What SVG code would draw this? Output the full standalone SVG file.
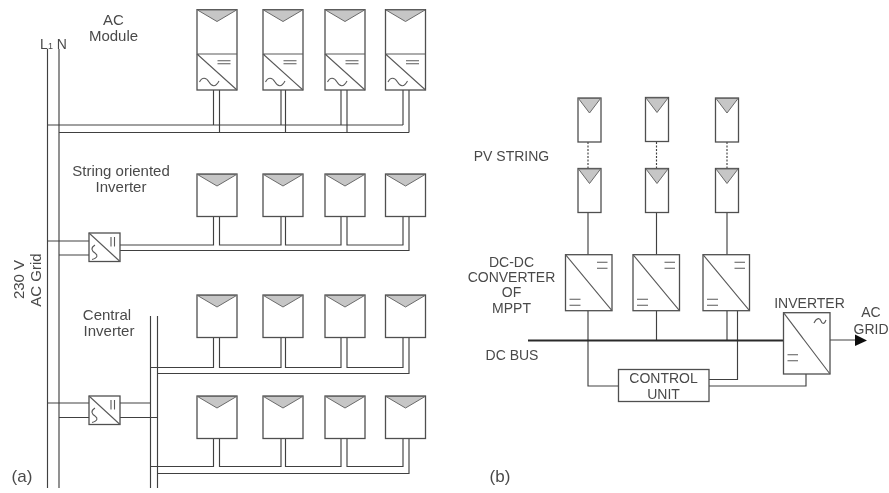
<svg xmlns="http://www.w3.org/2000/svg" width="889" height="493" viewBox="0 0 889 493">
<style>
.l{fill:none;stroke:#404040;stroke-width:1.15}
.b{fill:#fff;stroke:#4f4f4f;stroke-width:1.3}
.t{fill:#c6c6c6;stroke:#6a6a6a;stroke-width:1}
.s{fill:none;stroke:#5a5a5a;stroke-width:1.1}
text{font-family:"Liberation Sans",Arial,sans-serif;font-size:14px;fill:#4a4a4a;text-anchor:middle}
</style>
<defs>
<filter id="soft" x="0" y="0" width="100%" height="100%"><feGaussianBlur stdDeviation="0.35"/></filter>
<g id="panel"><rect class="b" x="0" y="0" width="40" height="42.500"/><path class="t" d="M0.500 0.500H39.500L20 12Z"/></g>
<g id="acpanel"><rect class="b" x="0" y="0" width="40" height="80.500"/><path class="t" d="M0.500 0.500H39.500L20 12Z"/><path class="s" d="M0 44.500H40M0 44.500L40 80.500M20.500 51.300H33.500M20.500 54.300H33.500"/><path class="s" d="M2.500 72.500C5 67.500 9 67.500 12 72.500S18.500 78 22 71.500"/></g>
<g id="inv"><rect class="b" x="0" y="0" width="31" height="28.500"/><path class="s" d="M0 0L31 28.500M22 4V13.500M25.500 4V13.500M6 12C1 15 3 18 6 20S9 25 3 26.500"/></g>
<g id="mini"><rect class="b" x="0" y="0" width="23" height="44"/><path class="t" d="M0.500 0.500H22.500L11.500 15Z"/></g>
<g id="dc"><rect class="b" x="0" y="0" width="46.500" height="56"/><path class="s" d="M0 0L46.500 56M31.500 7.500H42M31.500 13.500H42M4 44.500H15M4 50.500H15"/></g>
</defs>
<rect width="889" height="493" fill="#fff"/>
<g filter="url(#soft)">
<g id="connectors">
<path class="l" d="M47.500 49V488M59 49V488"/>
<path class="l" d="M47.500 125H403M59 132.500H409M213.500 90V125M219.500 90V132.500M281 90V125M285.500 90V132.500M341 90V125M347 90V132.500M403 90V125M409 90V132.500"/>
<path class="l" d="M47.500 241H89M59 255H89M120 245H213.500V216M219.500 216V245H281V216M285.500 216V245H341V216M347 216V245H403V216M120 250.500H409V216"/>
<path class="l" d="M150.500 316V488M157.500 316V488M47.500 403H89M59 417.500H89M120 403H150.500M120 417.500H157.500"/>
<path class="l" d="M150.500 367.500H213.500V337M219.500 337V367.500H281V337M285.500 337V367.500H341V337M347 337V367.500H403V337M157.500 373.500H409V337"/>
<path class="l" d="M150.500 466.500H213.500V438M219.500 438V466.500H281V438M285.500 438V466.500H341V438M347 438V466.500H403V438M157.500 473.500H409V438"/>
<path class="l" stroke-dasharray="2 1.500" d="M588 142V169M656.500 142V169M727 142V169"/>
<path class="l" d="M588 212V255M656.500 212V255M727 212V255"/>
<path class="l" d="M588 311V386H618.500M656.500 311V340M727 311V340M737.500 311V379.500H709M709 386H806V374M830 340H856"/>
<path d="M528 340.500H783" fill="none" stroke="#2a2a2a" stroke-width="2.200"/>
<path d="M855 334.500L867 340.500L855 346Z" fill="#111"/>
</g>
<g id="ac-module-1"><use href="#acpanel" x="197" y="9.500"/></g>
<g id="ac-module-2"><use href="#acpanel" x="263" y="9.500"/></g>
<g id="ac-module-3"><use href="#acpanel" x="325" y="9.500"/></g>
<g id="ac-module-4"><use href="#acpanel" x="385.500" y="9.500"/></g>
<g id="string-panel-1"><use href="#panel" x="197" y="174"/></g>
<g id="string-panel-2"><use href="#panel" x="263" y="174"/></g>
<g id="string-panel-3"><use href="#panel" x="325" y="174"/></g>
<g id="string-panel-4"><use href="#panel" x="385.500" y="174"/></g>
<g id="central-panel-1"><use href="#panel" x="197" y="295"/></g>
<g id="central-panel-2"><use href="#panel" x="263" y="295"/></g>
<g id="central-panel-3"><use href="#panel" x="325" y="295"/></g>
<g id="central-panel-4"><use href="#panel" x="385.500" y="295"/></g>
<g id="central-panel-5"><use href="#panel" x="197" y="396"/></g>
<g id="central-panel-6"><use href="#panel" x="263" y="396"/></g>
<g id="central-panel-7"><use href="#panel" x="325" y="396"/></g>
<g id="central-panel-8"><use href="#panel" x="385.500" y="396"/></g>
<g id="string-inverter"><use href="#inv" x="89" y="233"/></g>
<g id="central-inverter"><use href="#inv" x="89" y="396"/></g>
<g id="pv-1a"><use href="#mini" x="578" y="98"/></g>
<g id="pv-1b"><use href="#mini" x="578" y="168.500"/></g>
<g id="pv-2a"><use href="#mini" x="645.500" y="97.500"/></g>
<g id="pv-2b"><use href="#mini" x="645.500" y="168.500"/></g>
<g id="pv-3a"><use href="#mini" x="715.500" y="98"/></g>
<g id="pv-3b"><use href="#mini" x="715.500" y="168.500"/></g>
<g id="dcdc-1"><use href="#dc" x="565.500" y="254.700"/></g>
<g id="dcdc-2"><use href="#dc" x="633" y="254.700"/></g>
<g id="dcdc-3"><use href="#dc" x="703" y="254.700"/></g>
<g id="inverter"><rect class="b" x="783.500" y="312.700" width="46.500" height="61.300"/><path class="s" d="M783.500 312.700L830 374M787.500 354.700H798M787.500 360.700H798M814 323C817 317 820 318 821 321S824 325 826 320"/></g>
<g id="control-unit"><rect class="b" x="618.500" y="369.500" width="90.500" height="32"/><text x="663.500" y="383">CONTROL</text><text x="663.500" y="399">UNIT</text></g>
<g id="labels">
<text x="113.500" y="25" style="font-size:15px">AC</text>
<text x="113.500" y="41" style="font-size:15px">Module</text>
<text x="53.500" y="49"><tspan>L</tspan><tspan font-size="9">1</tspan><tspan> N</tspan></text>
<text x="121" y="176" style="font-size:15px">String oriented</text>
<text x="121" y="192" style="font-size:15px">Inverter</text>
<text x="107" y="320" style="font-size:15px">Central</text>
<text x="109" y="336" style="font-size:15px">Inverter</text>
<text transform="translate(23.500 279.500) rotate(-90)" style="font-size:15px">230 V</text>
<text transform="translate(41 280) rotate(-90)" style="font-size:15px">AC Grid</text>
<text x="22" y="482" style="font-size:17px">(a)</text>
<text x="500" y="482" style="font-size:17px">(b)</text>
<text x="511.500" y="161">PV STRING</text>
<text x="511.500" y="266.500">DC-DC</text>
<text x="511.500" y="282">CONVERTER</text>
<text x="511.500" y="297">OF</text>
<text x="511.500" y="313">MPPT</text>
<text x="512" y="360">DC BUS</text>
<text x="809.500" y="308">INVERTER</text>
<text x="871" y="317">AC</text>
<text x="871" y="334">GRID</text>
</g>
</g>
</svg>
